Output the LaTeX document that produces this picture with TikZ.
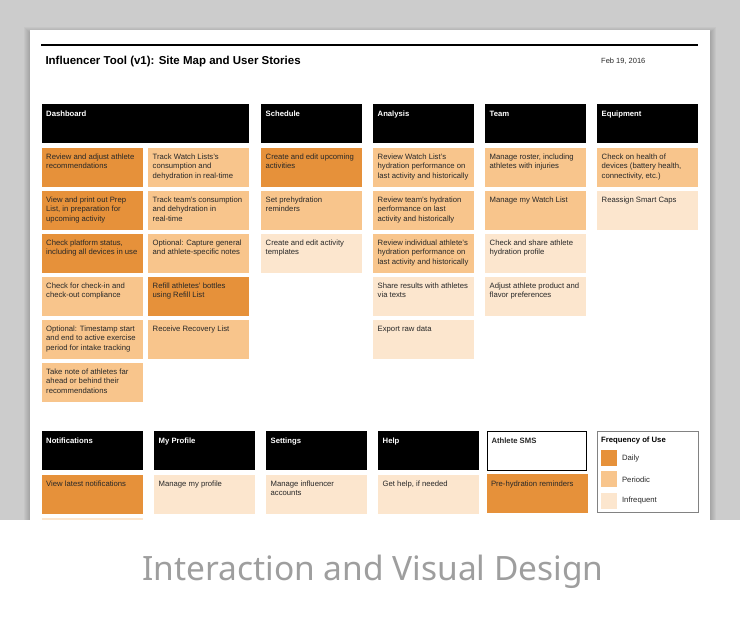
\documentclass[tikz,border=0pt]{standalone}
\usepackage{fontspec}
\setmainfont{Liberation Sans}
\newfontfamily\captionfont{Noto Sans}
\usetikzlibrary{positioning}
\definecolor{cdaily}{RGB}{230,145,58}
\definecolor{cperiodic}{RGB}{248,197,140}
\definecolor{crare}{RGB}{252,230,206}
\definecolor{inkgray}{RGB}{40,40,40}
\definecolor{deskgray}{RGB}{204,204,204}
\definecolor{capgray}{RGB}{158,158,158}
\definecolor{legendline}{RGB}{130,130,130}
\newcommand{\cardtxt}[2][92pt]{\parbox[t][26pt][t]{#1}{\raggedright\rule{0pt}{5.6pt}#2}}
\tikzset{
  card/.style={rectangle, anchor=north west, inner xsep=4.5pt, inner ysep=6.5pt,
    minimum height=39pt, font=\fontsize{7.7}{9.3}\selectfont, text=inkgray},
  daily/.style={card, fill=cdaily},
  periodic/.style={card, fill=cperiodic},
  rare/.style={card, fill=crare},
  hdr/.style={card, fill=black, text=white, font=\fontsize{7.7}{9.3}\selectfont\bfseries},
  smshdr/.style={card, fill=white, draw=black, line width=1.4pt, outer sep=0pt,
    inner ysep=5.8pt, inner xsep=3.8pt, font=\fontsize{7.7}{9.3}\selectfont\bfseries},
  swatch/.style={rectangle, minimum size=16pt, inner sep=0pt, anchor=north west},
  swlabel/.style={anchor=west, inner sep=0pt, font=\fontsize{7.7}{9}\selectfont, text=inkgray}
}

\begin{document}
\begin{tikzpicture}[x=1pt, y=-1pt, node distance=3.6pt]
  \useasboundingbox (0,0) rectangle (740,620);
  % desk and sheet
  \fill[deskgray] (0,0) rectangle (740,520);
  \foreach \s in {1,...,6}
    \fill[black, opacity=0.03] ({30-\s},{33-\s}) rectangle ({710+\s},520);
  \fill[white] (30,30) rectangle (710,520);
  % title block
  \draw[line width=2pt] (41,45) -- (698,45);
  \node[anchor=base west, inner sep=0pt, font=\fontsize{11.5}{13}\selectfont\bfseries] (title) at (45.3,65) {Influencer Tool (v1): Site Map and User Stories};
  \node[anchor=base west, inner sep=0pt, font=\fontsize{7.5}{9}\selectfont, text=inkgray] (date) at (601,64) {Feb 19, 2016};

  % Dashboard
  \node[hdr] (dash) at (41.5,104) {\cardtxt[198.5pt]{Dashboard}};
  \node[daily, below=4pt of dash.south west, anchor=north west] (d1) {\cardtxt{Review and adjust athlete\\recommendations}};
  \node[daily, below=of d1] (d2) {\cardtxt{View and print out Prep\\List, in preparation for\\upcoming activity}};
  \node[daily, below=of d2] (d3) {\cardtxt{Check platform status,\\including all devices in use}};
  \node[periodic, below=of d3] (d4) {\cardtxt{Check for check-in and\\check-out compliance}};
  \node[periodic, below=of d4] (d5) {\cardtxt{Optional: Timestamp start\\and end to active exercise\\period for intake tracking}};
  \node[periodic, below=of d5] (d6) {\cardtxt{Take note of athletes far\\ahead or behind their\\recommendations}};
  \node[periodic, below=4pt of dash.south east, anchor=north east] (r1) {\cardtxt{Track Watch Lists's\\consumption and\\dehydration in real-time}};
  \node[periodic, below=of r1] (r2) {\cardtxt{Track team's consumption\\and dehydration in\\real-time}};
  \node[periodic, below=of r2] (r3) {\cardtxt{Optional: Capture general\\and athlete-specific notes}};
  \node[daily, below=of r3] (r4) {\cardtxt{Refill athletes' bottles\\using Refill List}};
  \node[periodic, below=of r4] (r5) {\cardtxt{Receive Recovery List}};

  % Schedule
  \node[hdr] (sched) at (261,104) {\cardtxt{Schedule}};
  \node[daily, below=4pt of sched] (s1) {\cardtxt{Create and edit upcoming\\activities}};
  \node[periodic, below=of s1] (s2) {\cardtxt{Set prehydration\\reminders}};
  \node[rare, below=of s2] (s3) {\cardtxt{Create and edit activity\\templates}};

  % Analysis
  \node[hdr] (anal) at (373,104) {\cardtxt{Analysis}};
  \node[periodic, below=4pt of anal] (a1) {\cardtxt{Review Watch List's\\hydration performance on\\last activity and historically}};
  \node[periodic, below=of a1] (a2) {\cardtxt{Review team's hydration\\performance on last\\activity and historically}};
  \node[periodic, below=of a2] (a3) {\cardtxt{Review individual athlete's\\hydration performance on\\last activity and historically}};
  \node[rare, below=of a3] (a4) {\cardtxt{Share results with athletes\\via texts}};
  \node[rare, below=of a4] (a5) {\cardtxt{Export raw data}};

  % Team
  \node[hdr] (team) at (485,104) {\cardtxt{Team}};
  \node[periodic, below=4pt of team] (t1) {\cardtxt{Manage roster, including\\athletes with injuries}};
  \node[periodic, below=of t1] (t2) {\cardtxt{Manage my Watch List}};
  \node[rare, below=of t2] (t3) {\cardtxt{Check and share athlete\\hydration profile}};
  \node[rare, below=of t3] (t4) {\cardtxt{Adjust athlete product and\\flavor preferences}};

  % Equipment
  \node[hdr] (equip) at (597,104) {\cardtxt{Equipment}};
  \node[periodic, below=4pt of equip] (e1) {\cardtxt{Check on health of\\devices (battery health,\\connectivity, etc.)}};
  \node[rare, below=of e1] (e2) {\cardtxt{Reassign Smart Caps}};

  % lower row
  \node[hdr] (notif) at (41.5,431) {\cardtxt{Notifications}};
  \node[daily, below=4pt of notif] (n1) {\cardtxt{View latest notifications}};
  \node[rare, below=4pt of n1] (n2) {\cardtxt{\mbox{}}};
  \node[hdr] (prof) at (154,431) {\cardtxt{My Profile}};
  \node[rare, below=4pt of prof] (p1) {\cardtxt{Manage my profile}};
  \node[hdr] (sett) at (266,431) {\cardtxt{Settings}};
  \node[rare, below=4pt of sett] (g1) {\cardtxt{Manage influencer\\accounts}};
  \node[hdr] (help) at (378,431) {\cardtxt{Help}};
  \node[rare, below=4pt of help] (h1) {\cardtxt{Get help, if needed}};
  \node[smshdr] (sms) at (487.7,431.7) {\cardtxt[91pt]{Athlete SMS}};
  \node[daily, below=3.3pt of sms] (m1) {\cardtxt{Pre-hydration reminders}};

  % legend
  \node[draw=legendline, line width=0.6pt, anchor=north west, inner sep=0pt,
    minimum width=101.5pt, minimum height=81pt] (legend) at (596.5,431) {};
  \node[anchor=base west, inner sep=0pt, font=\fontsize{7.7}{9}\selectfont\bfseries] (legtitle) at (601,443) {Frequency of Use};
  \node[swatch, fill=cdaily] (swd) at (601,450) {};
  \node[swatch, fill=cperiodic, below=4.8pt of swd] (swp) {};
  \node[swatch, fill=crare, below=4.8pt of swp] (swr) {};
  \node[swlabel, right=4.5pt of swd] (ld) {Daily};
  \node[swlabel, right=4.5pt of swp] (lp) {Periodic};
  \node[swlabel, right=4.5pt of swr] (lr) {Infrequent};

  % caption strip
  \fill[white] (0,520) rectangle (740,620);
  \node[anchor=base, inner sep=0pt, text=capgray, font=\captionfont\fontsize{33.5}{36}\selectfont] (caption) at (373,580) {Interaction and Visual Design};
\end{tikzpicture}
\end{document}
